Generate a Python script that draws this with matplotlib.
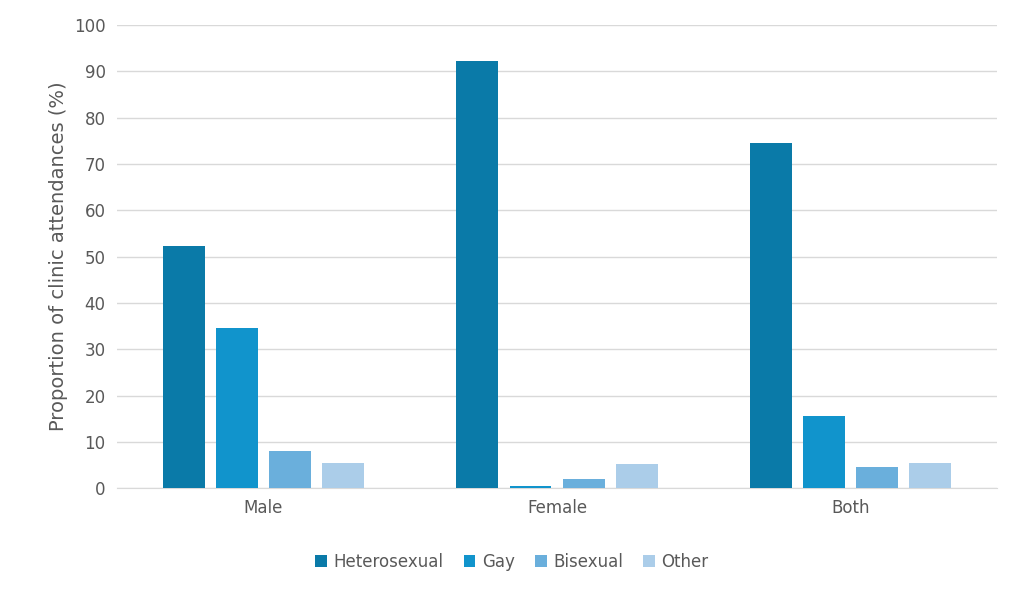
import numpy as np
import matplotlib.pyplot as plt

groups = ["Male", "Female", "Both"]
series = ["Heterosexual", "Gay", "Bisexual", "Other"]
heterosexual = [52.2, 92.3, 74.6]
gay = [34.6, 0.4, 15.5]
bisexual = [8.0, 2.0, 4.6]
other = [5.5, 5.3, 5.4]
colors = ["#0a7aa8", "#1194cc", "#6aafdc", "#abcde9"]

fig = plt.figure(figsize=(10.24, 5.96), dpi=100)
ax = fig.add_axes([0.114, 0.181, 0.86, 0.777])

x = np.arange(len(groups))
step = 0.181
width = 0.143
for i, (vals, name) in enumerate(zip([heterosexual, gay, bisexual, other], series)):
    ax.bar(x + (i - 1.5) * step, vals, width, color=colors[i], label=name, zorder=3)

ax.set_xlim(-0.5, 2.5)
ax.set_ylim(0, 100)
ax.set_yticks(range(0, 101, 10))
ax.set_xticks(x)
ax.set_xticklabels(groups)
ax.grid(axis="y", color="#d9d9d9", linewidth=1, zorder=0)
for s in ["top", "right", "left"]:
    ax.spines[s].set_visible(False)
ax.spines["bottom"].set_color("#d9d9d9")
ax.tick_params(length=0, labelsize=12, colors="#595959", pad=8)
ax.set_ylabel("Proportion of clinic attendances (%)", fontsize=14, color="#595959")
fig.legend(loc="center", bbox_to_anchor=(0.5, 0.057), ncol=4, frameon=False,
           fontsize=12, labelcolor="#595959", handlelength=0.7, handleheight=0.7,
           columnspacing=1.2, handletextpad=0.4)
fig.savefig("out.png")
